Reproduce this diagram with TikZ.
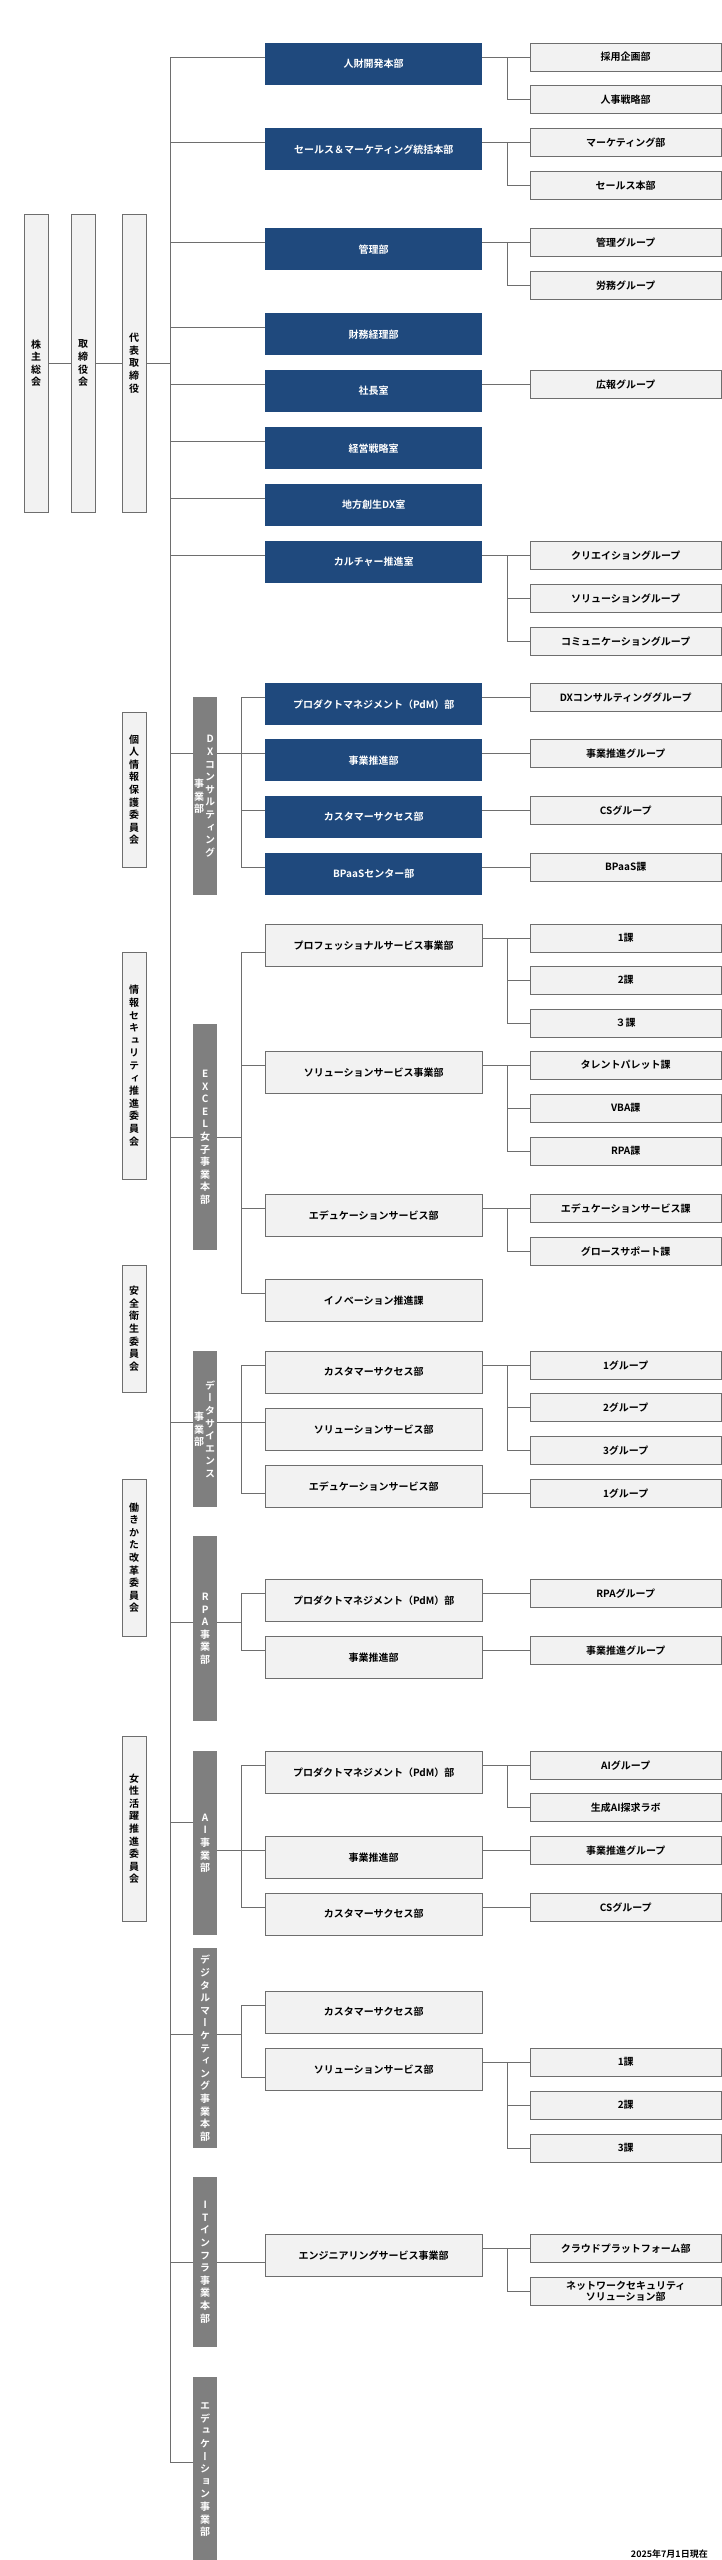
\documentclass[tikz,border=0pt]{standalone}
\usepackage{fontspec}
\setmainfont{Noto Sans CJK JP}[BoldFont={Noto Sans CJK JP Bold}]
\newfontfamily\vfont{Noto Sans CJK JP}[BoldFont={Noto Sans CJK JP Bold},RawFeature=+vert]
\definecolor{hqblue}{RGB}{31,73,125}
\definecolor{boxgray}{RGB}{242,242,242}
\definecolor{bargray}{RGB}{127,127,127}
\definecolor{linegray}{RGB}{110,110,110}
% vertical text: one character per line
\ExplSyntaxOn
\seq_new:N \l_vt_seq
\NewDocumentCommand\vt{m}{
  \seq_clear:N \l_vt_seq
  \tl_map_inline:nn {#1} { \seq_put_right:Nn \l_vt_seq {##1} }
  \seq_use:Nn \l_vt_seq {\\}
}
\ExplSyntaxOff
\tikzset{
  blue box/.style={fill=hqblue, text=white, anchor=north west, minimum width=217pt, minimum height=42pt, inner sep=0pt, font=\bfseries\fontsize{10}{12}\selectfont},
  gray box/.style={draw=linegray, fill=boxgray, anchor=north west, minimum width=217pt, minimum height=42pt, inner sep=0pt, font=\bfseries\fontsize{10}{12}\selectfont},
  sub box/.style={gray box, minimum width=191pt, minimum height=28pt, align=center},
  side box/.style={draw=linegray, fill=boxgray, anchor=north west, minimum width=24pt, inner sep=0pt, align=center, font=\vfont\bfseries\fontsize{10}{12.6}\selectfont},
  div bar/.style={fill=bargray, text=white, anchor=north west, minimum width=24pt, inner sep=0pt, align=center, font=\vfont\bfseries\fontsize{10}{12.6}\selectfont},
  bar text/.style={text=white, align=center, inner sep=0pt, font=\vfont\bfseries\fontsize{10}{12.6}\selectfont},
  link/.style={draw=linegray, line width=0.9pt}
}
\begin{document}
\begin{tikzpicture}[x=1pt, y=-1pt]
\useasboundingbox (0,0) rectangle (722,2560);
% top management
\node[side box, minimum height=298pt] (agm) at (24,214) {\vt{株主総会}};
\node[side box, minimum height=298pt] (board) at (71,214) {\vt{取締役会}};
\node[side box, minimum height=298pt] (ceo) at (122,214) {\vt{代表取締役}};
\coordinate (mtop) at (170,57);
\coordinate (mbot) at (170,2462);
\path[link] (agm) edge (board) (board) edge (ceo) (ceo.east) edge (ceo.east -| mtop);
\path[link] (mtop) edge (mbot);
% committees
\node[side box, minimum height=155pt] (privacy) at (122,712) {\vt{個人情報保護委員会}};
\node[side box, minimum height=227pt] (infosec) at (122,952) {\vt{情報セキュリティ推進委員会}};
\node[side box, minimum height=127pt] (safety) at (122,1265) {\vt{安全衛生委員会}};
\node[side box, minimum height=157pt] (workstyle) at (122,1479) {\vt{働きかた改革委員会}};
\node[side box, minimum height=185pt] (women) at (122,1736) {\vt{女性活躍推進委員会}};
% head office
\node[blue box] (hr) at (265,43) {人財開発本部};
\node[blue box] (sm) at (265,128) {セールス＆マーケティング統括本部};
\node[blue box] (adm) at (265,228) {管理部};
\node[blue box] (fin) at (265,313) {財務経理部};
\node[blue box] (pres) at (265,370) {社長室};
\node[blue box] (strat) at (265,427) {経営戦略室};
\node[blue box] (region) at (265,484) {地方創生DX室};
\node[blue box] (cult) at (265,541) {カルチャー推進室};
\node[sub box] (hr1) at (530,43) {採用企画部};
\node[sub box] (hr2) at (530,85) {人事戦略部};
\node[sub box] (sm1) at (530,128) {マーケティング部};
\node[sub box] (sm2) at (530,171) {セールス本部};
\node[sub box] (adm1) at (530,228) {管理グループ};
\node[sub box] (adm2) at (530,271) {労務グループ};
\node[sub box] (pres1) at (530,370) {広報グループ};
\node[sub box] (cult1) at (530,541) {クリエイショングループ};
\node[sub box] (cult2) at (530,584) {ソリューショングループ};
\node[sub box] (cult3) at (530,627) {コミュニケーショングループ};
\foreach \n in {hr,sm,adm,fin,pres,strat,region,cult}
  \draw[link] ([yshift=-14pt]\n.north west) -- ++(-95,0);
\draw[link] (hr1.west) -- (hr1.west -| hr.east);
\draw[link] (hr2.west) -- ++(-23,0) |- (hr1.west);
\draw[link] (sm1.west) -- (sm1.west -| sm.east);
\draw[link] (sm2.west) -- ++(-23,0) |- (sm1.west);
\draw[link] (adm1.west) -- (adm1.west -| adm.east);
\draw[link] (adm2.west) -- ++(-23,0) |- (adm1.west);
\draw[link] (pres1.west) -- (pres1.west -| pres.east);
\draw[link] (cult1.west) -- (cult1.west -| cult.east);
\draw[link] (cult2.west) -- ++(-23,0);
\draw[link] (cult3.west) -- ++(-23,0) |- (cult1.west);
% DX consulting
\node[div bar, minimum height=198pt] (dxbar) at (193,697) {};
\node[bar text, xshift=5pt] at (dxbar) {\vt{DXコンサルティング}};
\node[bar text, xshift=-6pt] at (dxbar) {\vt{事業部}};
\node[blue box] (dxpdm) at (265,683) {プロダクトマネジメント（PdM）部};
\node[blue box] (dxbiz) at (265,739) {事業推進部};
\node[blue box] (dxcs) at (265,796) {カスタマーサクセス部};
\node[blue box] (dxbp) at (265,853) {BPaaSセンター部};
\node[sub box] (dxpdm1) at (530,683) {DXコンサルティンググループ};
\node[sub box] (dxbiz1) at (530,739) {事業推進グループ};
\node[sub box] (dxcs1) at (530,796) {CSグループ};
\node[sub box] (dxbp1) at (530,853) {BPaaS課};
\coordinate (dxc) at (170,753);
\draw[link] (dxc) -- (dxc -| dxbar.west) (dxc -| dxbar.east) -- ++(24,0);
\draw[link] ([yshift=-14pt]dxpdm.north west) -- ++(-24,0) |- ([yshift=-14pt]dxbp.north west);
\foreach \n in {dxbiz,dxcs} \draw[link] ([yshift=-14pt]\n.north west) -- ++(-24,0);
\foreach \n in {dxpdm,dxbiz,dxcs,dxbp} \draw[link] (\n1.west) -- (\n1.west -| \n.east);
% EXCEL
\node[div bar, minimum height=226pt] (exbar) at (193,1024) {\vt{EXCEL女子事業本部}};
\node[gray box] (expro) at (265,924) {プロフェッショナルサービス事業部};
\node[gray box] (exsol) at (265,1051) {ソリューションサービス事業部};
\node[gray box] (exedu) at (265,1194) {エデュケーションサービス部};
\node[gray box] (exinn) at (265,1279) {イノベーション推進課};
\node[sub box] (expro1) at (530,924) {1課};
\node[sub box] (expro2) at (530,966) {2課};
\node[sub box] (expro3) at (530,1009) {３課};
\node[sub box] (exsol1) at (530,1051) {タレントパレット課};
\node[sub box] (exsol2) at (530,1094) {VBA課};
\node[sub box] (exsol3) at (530,1137) {RPA課};
\node[sub box] (exedu1) at (530,1194) {エデュケーションサービス課};
\node[sub box] (exedu2) at (530,1237) {グロースサポート課};
\coordinate (exc) at (170,1137);
\draw[link] (exc) -- (exc -| exbar.west) (exc -| exbar.east) -- ++(24,0);
\draw[link] ([yshift=-28pt]expro.north west) -- ++(-24,0) |- ([yshift=-14pt]exinn.north west);
\foreach \n in {exsol,exedu} \draw[link] ([yshift=-14pt]\n.north west) -- ++(-24,0);
\draw[link] (expro1.west) -- (expro1.west -| expro.east);
\draw[link] (expro2.west) -- ++(-23,0);
\draw[link] (expro3.west) -- ++(-23,0) |- (expro1.west);
\draw[link] (exsol1.west) -- (exsol1.west -| exsol.east);
\draw[link] (exsol2.west) -- ++(-23,0);
\draw[link] (exsol3.west) -- ++(-23,0) |- (exsol1.west);
\draw[link] (exedu1.west) -- (exedu1.west -| exedu.east);
\draw[link] (exedu2.west) -- ++(-23,0) |- (exedu1.west);
% data science
\node[div bar, minimum height=156pt] (dsbar) at (193,1351) {};
\node[bar text, xshift=5pt] at (dsbar) {\vt{データサイエンス}};
\node[bar text, xshift=-6pt] at (dsbar) {\vt{事業部}};
\node[gray box] (dscs) at (265,1351) {カスタマーサクセス部};
\node[gray box] (dssol) at (265,1408) {ソリューションサービス部};
\node[gray box] (dsedu) at (265,1465) {エデュケーションサービス部};
\node[sub box] (dscs1) at (530,1351) {1グループ};
\node[sub box] (dscs2) at (530,1393) {2グループ};
\node[sub box] (dscs3) at (530,1436) {3グループ};
\node[sub box] (dsedu1) at (530,1479) {1グループ};
\coordinate (dsc) at (170,1422);
\draw[link] (dsc) -- (dsc -| dsbar.west) (dsc -| dsbar.east) -- (dssol.west |- dsc);
\draw[link] ([yshift=-14pt]dscs.north west) -- ++(-24,0) |- ([yshift=-28pt]dsedu.north west);
\draw[link] (dscs1.west) -- (dscs1.west -| dscs.east);
\draw[link] (dscs2.west) -- ++(-23,0);
\draw[link] (dscs3.west) -- ++(-23,0) |- (dscs1.west);
\draw[link] (dsedu1.west) -- (dsedu1.west -| dsedu.east);
% RPA
\node[div bar, minimum height=185pt] (rpabar) at (193,1536) {\vt{RPA事業部}};
\node[gray box] (rpapdm) at (265,1579) {プロダクトマネジメント（PdM）部};
\node[gray box] (rpabiz) at (265,1636) {事業推進部};
\node[sub box] (rpapdm1) at (530,1579) {RPAグループ};
\node[sub box] (rpabiz1) at (530,1636) {事業推進グループ};
\coordinate (rpac) at (170,1622);
\draw[link] (rpac) -- (rpac -| rpabar.west) (rpac -| rpabar.east) -- ++(24,0);
\draw[link] ([yshift=-14pt]rpapdm.north west) -- ++(-24,0) |- ([yshift=-14pt]rpabiz.north west);
\foreach \n in {rpapdm,rpabiz} \draw[link] (\n1.west) -- (\n1.west -| \n.east);
% AI
\node[div bar, minimum height=184pt] (aibar) at (193,1751) {\vt{AI事業部}};
\node[gray box] (aipdm) at (265,1751) {プロダクトマネジメント（PdM）部};
\node[gray box] (aibiz) at (265,1836) {事業推進部};
\node[gray box] (aics) at (265,1893) {カスタマーサクセス部};
\node[sub box] (aipdm1) at (530,1751) {AIグループ};
\node[sub box] (aipdm2) at (530,1793) {生成AI探求ラボ};
\node[sub box] (aibiz1) at (530,1836) {事業推進グループ};
\node[sub box] (aics1) at (530,1893) {CSグループ};
\coordinate (aic) at (170,1822);
\draw[link] (aic) -- (aic -| aibar.west);
\draw[link] ([yshift=-99pt]aibar.north east) -- ++(24,0);
\draw[link] ([yshift=-14pt]aipdm.north west) -- ++(-24,0) |- ([yshift=-14pt]aics.north west);
\draw[link] ([yshift=-14pt]aibiz.north west) -- ++(-24,0);
\foreach \n in {aipdm,aibiz,aics} \draw[link] (\n1.west) -- (\n1.west -| \n.east);
\draw[link] (aipdm2.west) -- ++(-23,0) |- (aipdm1.west);
% digital marketing
\node[div bar, minimum height=200pt] (dmbar) at (193,1948) {\vt{デジタルマーケティング事業本部}};
\node[gray box] (dmcs) at (265,1991) {カスタマーサクセス部};
\node[gray box] (dmsol) at (265,2048) {ソリューションサービス部};
\node[sub box] (dmsol1) at (530,2048) {1課};
\node[sub box] (dmsol2) at (530,2091) {2課};
\node[sub box] (dmsol3) at (530,2134) {3課};
\coordinate (dmc) at (170,2034);
\draw[link] (dmc) -- (dmc -| dmbar.west) (dmc -| dmbar.east) -- ++(24,0);
\draw[link] ([yshift=-14pt]dmcs.north west) -- ++(-24,0) |- ([yshift=-29pt]dmsol.north west);
\draw[link] (dmsol1.west) -- (dmsol1.west -| dmsol.east);
\draw[link] (dmsol2.west) -- ++(-23,0);
\draw[link] (dmsol3.west) -- ++(-23,0) |- (dmsol1.west);
% IT infrastructure
\node[div bar, minimum height=170pt] (itbar) at (193,2177) {\vt{ITインフラ事業本部}};
\node[gray box] (iteng) at (265,2234) {エンジニアリングサービス事業部};
\node[sub box] (iteng1) at (530,2234) {クラウドプラットフォーム部};
\node[sub box, font=\bfseries\fontsize{10}{11.5}\selectfont] (iteng2) at (530,2277) {ネットワークセキュリティ\\ソリューション部};
\coordinate (itc) at (170,2262);
\draw[link] (itc) -- (itc -| itbar.west) (itc -| itbar.east) -- (iteng.west |- itc);
\draw[link] (iteng1.west) -- (iteng1.west -| iteng.east);
\draw[link] (iteng2.west) -- ++(-23,0) |- (iteng1.west);
% education
\node[div bar, minimum height=185pt] (edbar) at (193,2377) {\vt{エデュケーション事業部}};
\draw[link] (mbot) -- (mbot -| edbar.west);
\node[anchor=south east, inner sep=0pt, font=\bfseries\fontsize{9}{10}\selectfont] (date) at (708,2559) {2025年7月1日現在};
\end{tikzpicture}
\end{document}
